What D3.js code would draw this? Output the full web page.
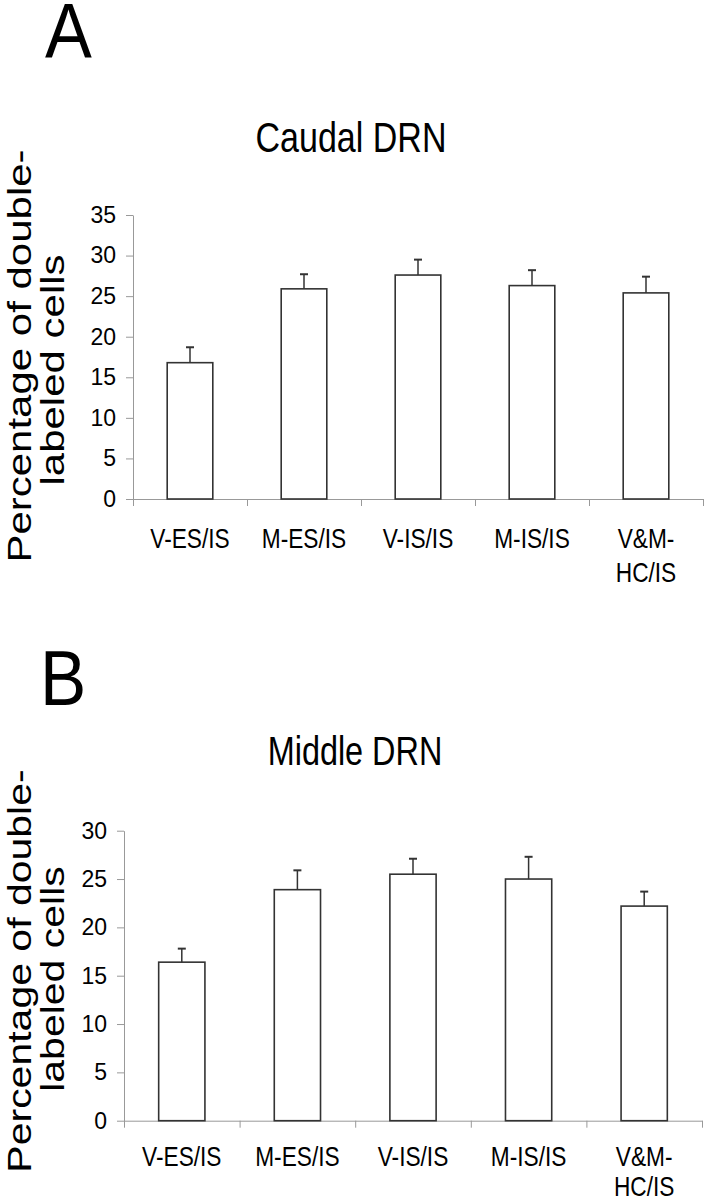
<!DOCTYPE html>
<html>
<head>
<meta charset="utf-8">
<script src="https://cdn.jsdelivr.net/npm/d3@7"></script>
<style>
  html, body { margin: 0; padding: 0; background: #fff; }
  svg { display: block; }
  text { font-family: "Liberation Sans", Arial, sans-serif; fill: #000; }
</style>
</head>
<body>
<svg id="chart" width="704" height="1200"></svg>
<script>
// ---- data ----
const categories = ["V-ES/IS", "M-ES/IS", "V-IS/IS", "M-IS/IS", "V&M-HC/IS"];
const categoryLines = [["V-ES/IS"], ["M-ES/IS"], ["V-IS/IS"], ["M-IS/IS"], ["V&M-", "HC/IS"]];
const caudalMeans = [16.8, 25.9, 27.6, 26.3, 25.4];
const caudalErrors = [1.9, 1.8, 1.9, 1.9, 2.0];
const middleMeans = [16.4, 23.9, 25.5, 25.0, 22.2];
const middleErrors = [1.4, 2.0, 1.6, 2.3, 1.5];
const caudalTicks = [0, 5, 10, 15, 20, 25, 30, 35];
const middleTicks = [0, 5, 10, 15, 20, 25, 30];
const yLabelLines = ["Percentage of double-", "labeled cells"];

const svg = d3.select("#chart");
const SX = 0.81; // horizontal squeeze of the original figure text

function drawPanel(p) {
  const g = svg.append("g");
  const x = d3.scaleBand().domain(categories).range([p.left, p.right]).paddingInner(0.6).paddingOuter(0.3);
  const y = d3.scaleLinear().domain([0, p.max]).range([p.bottom, p.top]);

  // panel letter
  g.append("text")
    .attr("transform", `translate(${p.letterX},${p.letterY}) scale(0.9,1)`)
    .attr("font-size", p.letterSize)
    .text(p.letter);

  // title
  g.append("text")
    .attr("transform", `translate(${p.titleX},${p.titleY}) scale(${SX},1)`)
    .attr("text-anchor", "middle")
    .attr("font-size", p.titleSize)
    .text(p.title);

  // y axis label (two lines, rotated)
  yLabelLines.forEach((line, i) => {
    g.append("text")
      .attr("transform", `translate(${p.ylabX[i]},${p.ylabY[i]}) scale(${SX},1) rotate(-90)`)
      .attr("text-anchor", "middle")
      .attr("font-size", p.ylabSize)
      .text(line);
  });

  // y axis
  const yAxis = d3.axisLeft(y).tickValues(p.ticks).tickSize(7).tickSizeOuter(0).tickPadding(10);
  const ya = g.append("g").attr("transform", `translate(${p.left},0)`).call(yAxis);
  ya.select(".domain").attr("stroke", "#999").attr("stroke-width", 1);
  ya.selectAll(".tick line").attr("stroke", "#999");
  ya.selectAll(".tick text").attr("font-size", 23).attr("fill", "#222")
    .attr("font-family", "'Liberation Sans', Arial, sans-serif");

  // x axis line with ticks at category boundaries
  const xAxisScale = d3.scaleLinear().domain([0, categories.length]).range([p.left, p.right]);
  const xAxis = d3.axisBottom(xAxisScale).tickValues(d3.range(0, categories.length + 1)).tickSize(7).tickSizeOuter(0).tickFormat("");
  const xa = g.append("g").attr("transform", `translate(0,${p.bottom})`).call(xAxis);
  xa.select(".domain").attr("stroke", "#999");
  xa.selectAll(".tick line").attr("stroke", "#999");

  // bars
  g.selectAll("rect.bar").data(p.means).join("rect")
    .attr("class", "bar")
    .attr("x", (d, i) => x(categories[i]))
    .attr("width", x.bandwidth())
    .attr("y", d => y(d))
    .attr("height", d => y(0) - y(d))
    .attr("fill", "#fff")
    .attr("stroke", "#333")
    .attr("stroke-width", 1.6);

  // error bars
  const eb = g.selectAll("g.err").data(p.means).join("g").attr("class", "err");
  eb.append("line")
    .attr("x1", (d, i) => x(categories[i]) + x.bandwidth() / 2)
    .attr("x2", (d, i) => x(categories[i]) + x.bandwidth() / 2)
    .attr("y1", d => y(d))
    .attr("y2", (d, i) => y(d + p.errors[i]))
    .attr("stroke", "#333").attr("stroke-width", 1.5);
  eb.append("line")
    .attr("x1", (d, i) => x(categories[i]) + x.bandwidth() / 2 - 4)
    .attr("x2", (d, i) => x(categories[i]) + x.bandwidth() / 2 + 4)
    .attr("y1", (d, i) => y(d + p.errors[i]))
    .attr("y2", (d, i) => y(d + p.errors[i]))
    .attr("stroke", "#333").attr("stroke-width", 2);

  // category labels
  categoryLines.forEach((lines, i) => {
    const cx = x(categories[i]) + x.bandwidth() / 2;
    lines.forEach((ln, j) => {
      g.append("text")
        .attr("transform", `translate(${cx},${p.bottom + p.xlabOffset + j * p.lineGap}) scale(${SX},1)`)
        .attr("text-anchor", "middle")
        .attr("font-size", 28)
        .text(ln);
    });
  });
}

drawPanel({
  letter: "A", letterX: 45, letterY: 58, letterSize: 78,
  title: "Caudal DRN", titleX: 351, titleY: 152, titleSize: 42,
  ylabX: [31, 64], ylabY: [356, 370], ylabSize: 42,
  left: 133, right: 703, top: 215, bottom: 499, max: 35,
  ticks: caudalTicks, means: caudalMeans, errors: caudalErrors,
  xlabOffset: 49, lineGap: 34
});

drawPanel({
  letter: "B", letterX: 40, letterY: 705, letterSize: 77,
  title: "Middle DRN", titleX: 355, titleY: 765, titleSize: 40,
  ylabX: [31, 64], ylabY: [971, 979], ylabSize: 41,
  left: 124, right: 702, top: 830.7, bottom: 1120.7, max: 30,
  ticks: middleTicks, means: middleMeans, errors: middleErrors,
  xlabOffset: 45, lineGap: 30
});
</script>
</body>
</html>
